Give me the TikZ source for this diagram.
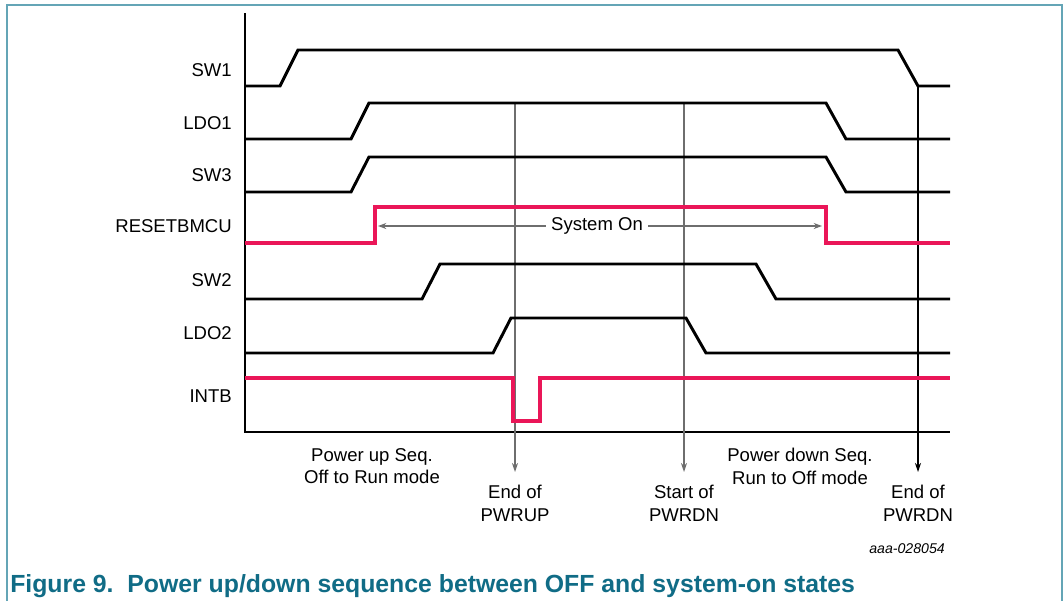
\documentclass[tikz,border=0pt]{standalone}
\usepackage{fontspec}
\setmainfont{Liberation Sans}
\usepackage{tikz}
\usetikzlibrary{positioning,arrows.meta}
\definecolor{sigred}{RGB}{234,22,88}
\definecolor{capteal}{RGB}{16,108,134}
\definecolor{frameteal}{RGB}{100,165,182}
\definecolor{markgray}{RGB}{110,110,110}
\tikzset{
  lbl/.style={anchor=east,font=\fontsize{13.9}{16}\selectfont,inner sep=0pt},
  note/.style={align=center,font=\fontsize{13.9}{17}\selectfont,inner sep=0pt},
  wave/.style={line width=2.2pt,line join=miter},
  rwave/.style={wave,sigred,line width=2.3pt},
  evt/.style={-{Stealth[length=2.4mm,width=1.6mm]},line width=0.8pt},
  ar/.style={-{Stealth[length=2.2mm,width=1.6mm]},line width=0.9pt,markgray},
}

\begin{document}
\begin{tikzpicture}[x=0.75pt,y=-0.75pt]
  \useasboundingbox (0,0) rectangle (1064,601);
  % frame and caption
  \draw[frameteal,line width=1.1pt] (7,601) -- (7,5) -- (1062,5) -- (1062,601);
  \node[anchor=base west,inner sep=0pt,capteal,font=\fontsize{18.6}{21}\selectfont\bfseries] (cap) at (10,592)
    {Figure 9.\ \ Power up/down sequence between OFF and system-on states};
  \node[anchor=base east,inner sep=0pt,font=\fontsize{10.6}{12}\selectfont\itshape] (fig) at (945,553) {aaa-028054};

  % axes
  \draw[line width=1.1pt] (245,13) -- (245,432) -- (950,432);

  % signal names
  \node[lbl] (sw1) at (232,70) {SW1};
  \node[lbl] (ldo1) at (232,123) {LDO1};
  \node[lbl] (sw3) at (232,175) {SW3};
  \node[lbl] (rst) at (232,226) {RESETBMCU};
  \node[lbl] (sw2) at (232,280) {SW2};
  \node[lbl] (ldo2) at (232,333) {LDO2};
  \node[lbl] (intb) at (232,396) {INTB};

  % markers
  \coordinate (pu) at (515,103);
  \coordinate (pd) at (684,103);
  \coordinate (off) at (918,86);
  \node[note,anchor=north] (endup) at (515,485) {End of\\PWRUP};
  \node[note,anchor=north] (startdn) at (684,485) {Start of\\PWRDN};
  \node[note,anchor=north] (enddn) at (918,485) {End of\\PWRDN};
  \draw[evt,markgray] (pu) -- ([yshift=0.75pt*13]endup.north);
  \draw[evt,markgray] (pd) -- ([yshift=0.75pt*13]startdn.north);
  \draw[evt] (off) -- ([yshift=0.75pt*13]enddn.north);
  \node[note,anchor=north] (upseq) at (372,448) {Power up Seq.\\Off to Run mode};
  \node[note,anchor=north] (dnseq) at (800,448) {Power down Seq.\\Run to Off mode};

  % waveforms
  \foreach \lo/\hi/\a/\b in {86/50/280/898,139/103/351/826,192/157/351/826,299/264/422/756,353/318/493/686}
    \draw[wave] (245,\lo) -- (\a,\lo) -- (\a+18,\hi) -- (\b,\hi) -- (\b+20,\lo) -- (950,\lo);
  \draw[rwave] (245,243) -- (375,243) -- (375,207) -- (826,207) -- (826,243) -- (950,243);
  \draw[rwave] (245,378) -- (513,378) -- (513,421) -- (540,421) -- (540,378) -- (950,378);

  % system on span
  \node[font=\fontsize{13.9}{16}\selectfont,inner sep=0pt,fill=white,inner xsep=4pt] (son) at (597,226) {System On};
  \coordinate (sonl) at (378,226);
  \coordinate (sonr) at (822,226);
  \draw[ar] (son) -- (sonl);
  \draw[ar] (son) -- (sonr);
\end{tikzpicture}
\end{document}
